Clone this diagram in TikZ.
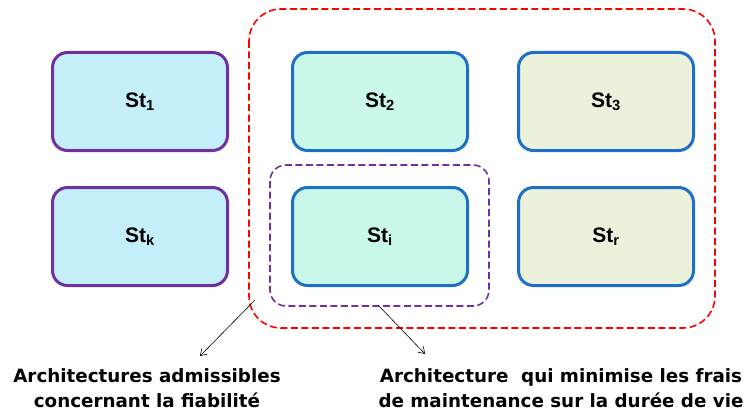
\documentclass[tikz,border=0pt]{standalone}
\usepackage{fontspec}
\setmainfont{Liberation Sans}
\newfontfamily\capfont{DejaVu Sans}
\usetikzlibrary{arrows.meta}
\definecolor{boxpurple}{HTML}{7030A0}
\definecolor{boxblue}{HTML}{1F6FC5}
\definecolor{fillcyan}{HTML}{C5EEFB}
\definecolor{fillmint}{HTML}{C9F8EA}
\definecolor{fillolive}{HTML}{EBF1DB}
\tikzset{
  stbox/.style={draw, line width=3pt, rounded corners=15pt, minimum width=175pt, minimum height=98pt, font=\bfseries\fontsize{21}{24}\selectfont, inner sep=0pt},
  leftbox/.style={stbox, draw=boxpurple, fill=fillcyan},
  midbox/.style={stbox, draw=boxblue, fill=fillmint},
  rightbox/.style={stbox, draw=boxblue, fill=fillolive},
  reddash/.style={draw=red, line width=1.6pt, dash pattern=on 7pt off 3.5pt, rounded corners=32pt},
  purpledash/.style={draw=boxpurple, line width=1.6pt, dash pattern=on 7pt off 3.5pt, rounded corners=16pt},
  pointer/.style={draw=black, line width=0.6pt, -{Straight Barb[length=6pt,width=8pt]}},
  caption/.style={font=\capfont\bfseries\fontsize{18.3}{25}\selectfont, align=center, inner sep=0pt}
}
\begin{document}
\begin{tikzpicture}[x=1pt,y=-1pt]
\useasboundingbox (0,0) rectangle (744,412);
\node[leftbox] (st1) at (140,101.5) {St\textsubscript{1}};
\node[leftbox] (stk) at (140,236.5) {St\textsubscript{k}};
\node[midbox] (st2) at (380,101.5) {St\textsubscript{2}};
\node[midbox] (sti) at (380,236.5) {St\textsubscript{i}};
\node[rightbox] (st3) at (606,101.5) {St\textsubscript{3}};
\node[rightbox] (str) at (606,236.5) {St\textsubscript{r}};
\draw[reddash] (249,9) rectangle (715,328);
\draw[purpledash] (270,165) rectangle (489,306);
\coordinate (redpt) at (255,300);
\coordinate (purpt) at (379,306);
\node[caption] (cap1) at (147,388) {Architectures admissibles\\concernant la fiabilit\'e};
\node[caption] (cap2) at (561,388) {Architecture\ \ qui minimise les frais\\de maintenance sur la dur\'ee de vie};
\draw[pointer] (redpt) -- (200,356);
\draw[pointer] (purpt) -- (425,354);
\end{tikzpicture}
\end{document}
